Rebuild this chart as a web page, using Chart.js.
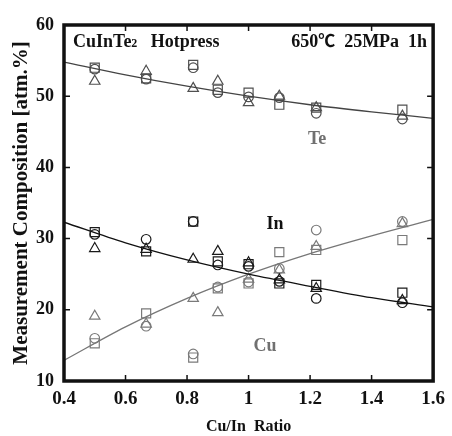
<!DOCTYPE html>
<html>
<head>
<meta charset="utf-8">
<script src="https://cdn.jsdelivr.net/npm/chart.js@4"></script>
<style>
  html, body { margin: 0; padding: 0; background: #fff; }
  #wrap { width: 452px; height: 436px; position: relative; }
</style>
</head>
<body>
<div id="wrap"><canvas id="c" width="452" height="436"></canvas></div>
<script>
// ---- data ----
const ratios = [0.5, 0.667, 0.82, 0.9, 1.0, 1.1, 1.22, 1.5];

const teSquare   = [54.0, 52.5, 54.4, 50.9, 50.5, 48.8, 48.4, 48.1];
const teCircle   = [53.8, 52.4, 54.0, 50.5, 49.9, 49.8, 47.6, 46.8];
const teTriangle = [52.1, 53.5, 51.1, 52.1, 49.1, 50.0, 48.4, 47.2];

const inSquare   = [30.9, 28.2, 32.4, 26.8, 26.4, 23.7, 23.5, 22.4];
const inCircle   = [30.6, 29.9, 32.4, 26.3, 26.1, 24.0, 21.6, 21.0];
const inTriangle = [28.6, 28.5, 27.1, 28.2, 26.6, 24.2, 23.0, 21.3];

const cuSquare   = [15.3, 19.5, 13.3, 23.0, 23.7, 28.1, 28.4, 29.8];
const cuCircle   = [16.0, 17.7, 13.8, 23.2, 23.9, 25.8, 31.2, 32.4];
const cuTriangle = [19.1, 18.0, 21.6, 19.6, 24.3, 25.6, 28.9, 32.1];

// curves at the x tick positions
const curveX  = [0.4, 0.6, 0.8, 1.0, 1.2, 1.4, 1.6];
const teCurve = [54.8, 53.0, 51.4, 50.0, 48.8, 47.8, 46.9];
const inCurve = [32.3, 29.4, 27.0, 25.0, 23.3, 21.7, 20.4];
const cuCurve = [12.9, 17.6, 21.6, 25.0, 27.9, 30.4, 32.7];

const xTicks = [0.4, 0.6, 0.8, 1.0, 1.2, 1.4, 1.6];
const yTicks = [10, 20, 30, 40, 50, 60];

const xTitle = 'Cu/In  Ratio';
const yTitle = 'Measurement Composition [atm.%]';

// ---- styles ----
const TE_COL = '#505050';
const IN_COL = '#1a1a1a';
const CU_COL = '#7a7a7a';
const SERIF = '"Liberation Serif", "Times New Roman", serif';

function pts(xs, ys) { return xs.map((x, i) => ({ x: x, y: ys[i] })); }

function markerSet(ys, style, col) {
  const r = style === 'rect' ? 6.4 : (style === 'triangle' ? 6 : 4.8);
  return {
    type: 'scatter',
    data: pts(ratios, ys),
    pointStyle: style,
    pointRadius: r,
    pointHoverRadius: r,
    borderColor: col,
    backgroundColor: 'rgba(0,0,0,0)',
    pointBorderWidth: 1.2,
    showLine: false
  };
}
function curveSet(ys, col) {
  return {
    type: 'line',
    data: pts(curveX, ys),
    borderColor: col,
    borderWidth: 1.3,
    pointRadius: 0,
    fill: false,
    cubicInterpolationMode: 'monotone'
  };
}

const framePlugin = {
  id: 'frame',
  afterDraw(chart) {
    const ctx = chart.ctx;
    const a = chart.chartArea;
    const xs = chart.scales.x, ys = chart.scales.y;
    ctx.save();
    ctx.strokeStyle = '#111';
    // inward ticks
    ctx.lineWidth = 1.5;
    const tl = 6;
    ctx.beginPath();
    xTicks.forEach(v => {
      const px = xs.getPixelForValue(v);
      ctx.moveTo(px, a.bottom); ctx.lineTo(px, a.bottom - tl);
      ctx.moveTo(px, a.top); ctx.lineTo(px, a.top + tl);
    });
    yTicks.forEach(v => {
      const py = ys.getPixelForValue(v);
      ctx.moveTo(a.left, py); ctx.lineTo(a.left + tl, py);
      ctx.moveTo(a.right, py); ctx.lineTo(a.right - tl, py);
    });
    ctx.stroke();
    // frame
    ctx.lineWidth = 3.5;
    ctx.strokeRect(a.left, a.top, a.right - a.left, a.bottom - a.top);

    // header texts
    ctx.fillStyle = '#111';
    ctx.textBaseline = 'alphabetic';
    ctx.textAlign = 'left';
    ctx.font = 'bold 18px ' + SERIF;
    let x = a.left + 9;
    const base = a.top + 22;
    ctx.fillText('CuInTe', x, base);
    x += ctx.measureText('CuInTe').width;
    ctx.font = 'bold 12px ' + SERIF;
    ctx.fillText('2', x, base);
    x += ctx.measureText('2').width;
    ctx.font = 'bold 18px ' + SERIF;
    ctx.fillText('   Hotpress', x, base);

    // right header, right aligned
    const p1 = '650', p2 = '℃', p3 = '  25MPa  1h';
    ctx.font = 'bold 18px ' + SERIF;
    const w1 = ctx.measureText(p1).width, w3 = ctx.measureText(p3).width;
    ctx.font = 'bold 17px "Noto Sans CJK JP", sans-serif';
    const w2 = ctx.measureText(p2).width;
    let rx = a.right - 6 - (w1 + w2 + w3);
    ctx.font = 'bold 18px ' + SERIF;
    ctx.fillText(p1, rx, base); rx += w1;
    ctx.font = 'bold 17px "Noto Sans CJK JP", sans-serif';
    ctx.fillText(p2, rx, base); rx += w2;
    ctx.font = 'bold 18px ' + SERIF;
    ctx.fillText(p3, rx, base);

    // element labels (placed in data coordinates)
    ctx.font = 'bold 18px ' + SERIF;
    ctx.fillStyle = '#707070';
    ctx.fillText('Te', xs.getPixelForValue(1.193), ys.getPixelForValue(43.3));
    ctx.fillStyle = '#111';
    ctx.fillText('In', xs.getPixelForValue(1.058), ys.getPixelForValue(31.3));
    ctx.fillStyle = '#707070';
    ctx.fillText('Cu', xs.getPixelForValue(1.016), ys.getPixelForValue(14.2));
    ctx.restore();
  }
};

new Chart(document.getElementById('c'), {
  data: {
    datasets: [
      curveSet(teCurve, '#444'),
      curveSet(inCurve, '#111'),
      curveSet(cuCurve, '#777'),
      markerSet(teSquare, 'rect', TE_COL),
      markerSet(teCircle, 'circle', TE_COL),
      markerSet(teTriangle, 'triangle', TE_COL),
      markerSet(inSquare, 'rect', IN_COL),
      markerSet(inCircle, 'circle', IN_COL),
      markerSet(inTriangle, 'triangle', IN_COL),
      markerSet(cuSquare, 'rect', CU_COL),
      markerSet(cuCircle, 'circle', CU_COL),
      markerSet(cuTriangle, 'triangle', CU_COL)
    ]
  },
  options: {
    responsive: false,
    animation: false,
    layout: { padding: { top: 25, right: 16, left: 0, bottom: 0 } },
    plugins: { legend: { display: false }, tooltip: { enabled: false } },
    scales: {
      x: {
        type: 'linear',
        min: 0.4, max: 1.6,
        afterFit(s) { s.height = 55; },
        afterBuildTicks(s) { s.ticks = xTicks.map(v => ({ value: v })); },
        grid: { display: false, drawTicks: false },
        border: { display: false },
        ticks: {
          padding: 7,
          color: '#111',
          font: { family: SERIF, size: 19, weight: 'bold' },
          callback: v => String(Math.round(v * 10) / 10)
        },
        title: {
          display: true, text: xTitle, color: '#111',
          font: { family: SERIF, size: 16, weight: 'bold', lineHeight: 1.2 },
          padding: { top: 0, bottom: 0 }
        }
      },
      y: {
        type: 'linear',
        min: 10, max: 60,
        afterFit(s) { s.width = 64; },
        afterBuildTicks(s) { s.ticks = yTicks.map(v => ({ value: v })); },
        grid: { display: false, drawTicks: false },
        border: { display: false },
        ticks: {
          padding: 10,
          color: '#111',
          font: { family: SERIF, size: 18, weight: 'bold' },
          callback: v => String(v)
        },
        title: {
          display: true, text: yTitle, color: '#111',
          font: { family: SERIF, size: 21, weight: 'bold', lineHeight: 1.2 },
          padding: { top: 9, bottom: 0 }
        }
      }
    }
  },
  plugins: [framePlugin]
});
</script>
</body>
</html>
